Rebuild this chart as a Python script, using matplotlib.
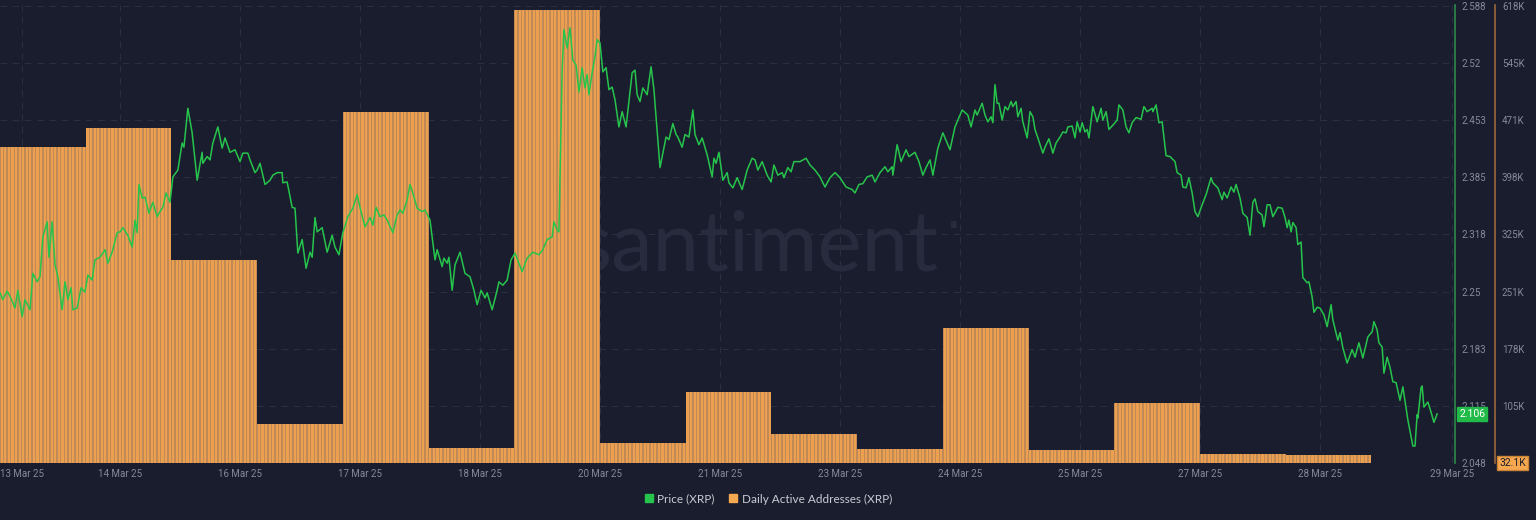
import numpy as np
import matplotlib
matplotlib.use("Agg")
import matplotlib.pyplot as plt
from matplotlib.lines import Line2D

# ---------------- data ----------------
# Daily active addresses (XRP), one value per day starting 13 Mar 25
daa_daily_k = [437, 462, 292, 82, 482, 51, 613, 58, 123, 69, 50, 205, 49, 109, 43, 42]

# Price (XRP): hours since start of chart and price in USD
price_hours = [
    0.0, 0.8, 2.0, 2.8, 4.2, 5.0, 6.2, 7.0, 8.4, 9.2, 10.4, 11.2, 12.0, 13.2, 13.7, 14.6,
    15.4, 16.2, 17.4, 18.2, 19.0, 19.9, 20.4, 21.6, 22.7, 23.8, 24.6, 25.8, 26.6, 28.0,
    29.4, 30.2, 31.4, 32.8, 33.6, 34.4, 35.8, 37.0, 37.8, 38.4, 38.9, 39.8, 40.6, 41.7,
    42.8, 44.0, 44.8, 45.6, 46.5, 47.6, 48.4, 49.8, 51.0, 51.5, 52.6, 53.8, 55.2, 56.6,
    56.8, 58.0, 58.8, 59.6, 61.0, 62.2, 63.0, 64.4, 65.8, 67.2, 68.0, 69.4, 70.0, 71.4,
    72.0, 72.8, 74.2, 75.6, 76.4, 77.6, 79.0, 79.2, 80.4, 81.8, 82.6, 83.4, 84.6, 85.7,
    86.8, 87.4, 88.2, 88.8, 90.2, 91.6, 93.0, 93.8, 94.9, 96.0, 97.4, 98.8, 100.0, 100.8,
    102.2, 103.6, 104.4, 105.3, 106.4, 107.5, 108.4, 110.0, 111.2, 112.0, 112.8, 114.0,
    114.8, 115.6, 116.8, 118.2, 119.0, 120.4, 121.8, 122.4, 123.8, 124.3, 125.2, 125.7,
    126.6, 127.4, 128.8, 130.2, 131.6, 132.7, 133.6, 134.7, 135.8, 136.4, 137.8, 139.2,
    139.7, 140.8, 142.0, 143.1, 144.2, 146.2, 147.6, 149.2, 150.9, 152.0, 153.2, 154.6,
    155.1, 156.0, 156.5, 157.4, 157.9, 158.8, 159.6, 160.4, 161.3, 162.1, 163.0, 163.8,
    164.4, 164.9, 165.8, 166.6, 167.2, 168.0, 168.8, 169.7, 170.5, 171.4, 172.2, 173.3,
    174.2, 175.3, 177.0, 177.8, 178.4, 179.2, 180.0, 181.2, 182.3, 183.1, 184.8, 186.5,
    187.3, 188.4, 189.3, 189.8, 191.0, 191.8, 192.9, 194.0, 194.6, 195.7, 196.6, 198.0,
    199.4, 199.9, 200.5, 201.3, 202.4, 203.6, 204.1, 205.2, 206.4, 207.2, 207.8, 209.2,
    210.6, 211.4, 212.2, 213.4, 214.8, 215.9, 216.7, 217.8, 219.0, 219.5, 220.6, 221.5,
    222.3, 224.0, 225.7, 226.8, 228.2, 229.6, 231.0, 232.4, 233.8, 235.2, 236.9, 238.6,
    239.4, 240.5, 241.6, 242.8, 244.2, 245.0, 246.4, 247.8, 248.6, 249.8, 250.0, 251.2,
    252.3, 253.7, 254.5, 256.2, 257.3, 258.4, 259.3, 260.4, 261.2, 262.6, 264.0, 266.0,
    267.4, 268.2, 269.4, 270.2, 271.0, 271.9, 273.0, 273.6, 275.0, 275.8, 276.6, 277.5,
    278.0, 278.6, 279.2, 279.7, 280.6, 281.4, 282.2, 283.1, 283.6, 284.5, 285.0, 285.9,
    286.4, 287.6, 288.4, 289.2, 289.8, 290.6, 292.0, 292.6, 293.7, 294.8, 295.7, 296.8,
    297.6, 298.5, 299.0, 300.2, 301.0, 301.6, 302.4, 303.0, 303.8, 304.4, 304.9, 306.0,
    307.2, 308.3, 308.8, 309.7, 310.5, 311.6, 312.8, 313.3, 314.4, 315.3, 316.1, 317.0,
    318.1, 319.5, 320.3, 321.2, 322.6, 322.8, 323.7, 324.5, 325.4, 326.5, 327.6, 329.0,
    329.6, 330.7, 331.2, 332.1, 332.9, 333.8, 334.6, 335.4, 336.6, 337.7, 339.1, 339.6,
    341.0, 342.2, 342.7, 343.6, 344.7, 345.5, 346.1, 347.2, 348.0, 349.2, 350.0, 350.8,
    351.4, 352.2, 353.4, 353.9, 354.8, 355.6, 356.4, 357.8, 359.0, 359.8, 360.4, 360.9,
    361.5, 362.0, 362.9, 363.4, 364.3, 364.8, 366.0, 366.5, 367.4, 367.9, 368.8, 369.6,
    370.7, 371.6, 372.7, 373.2, 374.6, 375.2, 376.0, 377.2, 378.6, 379.4, 380.5, 381.6,
    383.0, 384.2, 384.7, 385.6, 386.1, 387.0, 387.5, 388.4, 389.2, 390.0, 390.9, 392.0,
    392.8, 394.2, 395.6, 396.2, 396.8, 397.0, 397.9, 398.2, 398.7, 399.8, 400.7, 401.5,
    402.4,
]
price_values = [
    2.249, 2.241, 2.251, 2.245, 2.231, 2.252, 2.221, 2.241, 2.229, 2.272, 2.262, 2.268, 2.315, 2.333, 2.291, 2.333,
    2.282, 2.268, 2.229, 2.262, 2.241, 2.255, 2.229, 2.231, 2.255, 2.250, 2.270, 2.264, 2.288, 2.291,
    2.300, 2.284, 2.297, 2.320, 2.321, 2.326, 2.317, 2.303, 2.335, 2.320, 2.377, 2.361, 2.362, 2.343,
    2.356, 2.339, 2.345, 2.350, 2.367, 2.356, 2.386, 2.394, 2.426, 2.421, 2.467, 2.438, 2.382, 2.415,
    2.402, 2.410, 2.406, 2.426, 2.445, 2.420, 2.432, 2.415, 2.418, 2.404, 2.414, 2.414, 2.406, 2.391,
    2.394, 2.402, 2.377, 2.382, 2.388, 2.391, 2.391, 2.379, 2.380, 2.350, 2.349, 2.296, 2.312, 2.278,
    2.297, 2.291, 2.338, 2.321, 2.326, 2.297, 2.317, 2.303, 2.294, 2.320, 2.339, 2.349, 2.365, 2.350,
    2.327, 2.338, 2.329, 2.350, 2.339, 2.341, 2.335, 2.320, 2.341, 2.347, 2.343, 2.359,
    2.377, 2.367, 2.349, 2.345, 2.347, 2.335, 2.288, 2.300, 2.280, 2.290, 2.284, 2.291,
    2.252, 2.282, 2.297, 2.272, 2.268, 2.252, 2.235, 2.252, 2.243, 2.249, 2.229, 2.252,
    2.262, 2.258, 2.264, 2.288, 2.296, 2.274, 2.290, 2.297, 2.294, 2.300, 2.312, 2.315,
    2.333, 2.323, 2.321, 2.512, 2.560, 2.538, 2.562, 2.524, 2.518, 2.486, 2.515, 2.491,
    2.507, 2.483, 2.509, 2.528, 2.548, 2.544, 2.510, 2.515, 2.489, 2.492, 2.477, 2.445,
    2.463, 2.445, 2.509, 2.512, 2.483, 2.475, 2.491, 2.483, 2.516, 2.489, 2.397, 2.433,
    2.430, 2.449, 2.436, 2.433, 2.421, 2.436, 2.433, 2.465, 2.436, 2.424, 2.432, 2.412,
    2.386, 2.408, 2.402, 2.415, 2.382, 2.391, 2.379, 2.373, 2.385, 2.377, 2.371, 2.394,
    2.408, 2.406, 2.394, 2.404, 2.388, 2.380, 2.400, 2.388, 2.391, 2.385, 2.397, 2.392,
    2.404, 2.404, 2.408, 2.400, 2.394, 2.386, 2.374, 2.385, 2.391, 2.385, 2.374, 2.371,
    2.367, 2.377, 2.378, 2.386, 2.388, 2.380, 2.391, 2.398, 2.392, 2.398, 2.388, 2.424,
    2.404, 2.418, 2.410, 2.415, 2.404, 2.388, 2.397, 2.406, 2.388, 2.420, 2.438, 2.418,
    2.445, 2.453, 2.465, 2.462, 2.459, 2.445, 2.465, 2.459, 2.473, 2.459, 2.451, 2.457,
    2.450, 2.495, 2.473, 2.473, 2.453, 2.469, 2.465, 2.475, 2.469, 2.475, 2.457, 2.467,
    2.451, 2.432, 2.463, 2.457, 2.442, 2.432, 2.414, 2.421, 2.431, 2.414, 2.426, 2.433,
    2.439, 2.438, 2.445, 2.446, 2.432, 2.451, 2.439, 2.450, 2.439, 2.442, 2.432, 2.469,
    2.451, 2.467, 2.453, 2.463, 2.442, 2.447, 2.453, 2.471, 2.465, 2.445, 2.438, 2.450,
    2.456, 2.454, 2.469, 2.463, 2.467, 2.463, 2.471, 2.450, 2.451, 2.411, 2.410, 2.404,
    2.391, 2.388, 2.374, 2.373, 2.385, 2.367, 2.345, 2.339, 2.353, 2.365, 2.385, 2.379,
    2.373, 2.359, 2.368, 2.361, 2.374, 2.368, 2.377, 2.361, 2.343, 2.338, 2.317, 2.356,
    2.360, 2.345, 2.341, 2.327, 2.353, 2.353, 2.339, 2.350, 2.349, 2.338, 2.326, 2.335,
    2.321, 2.332, 2.326, 2.306, 2.309, 2.267, 2.261, 2.262, 2.244, 2.226, 2.232, 2.231,
    2.223, 2.209, 2.235, 2.217, 2.193, 2.202, 2.184, 2.166, 2.182, 2.173, 2.190, 2.172,
    2.197, 2.203, 2.215, 2.205, 2.190, 2.185, 2.154, 2.173, 2.161, 2.144, 2.143, 2.122,
    2.138, 2.099, 2.068, 2.068, 2.105, 2.101, 2.137, 2.139, 2.114, 2.120, 2.108, 2.096,
    2.106,
]

x_tick_labels = ["13 Mar 25", "14 Mar 25", "16 Mar 25", "17 Mar 25", "18 Mar 25", "20 Mar 25",
                 "21 Mar 25", "23 Mar 25", "24 Mar 25", "25 Mar 25", "27 Mar 25", "28 Mar 25",
                 "29 Mar 25"]
price_tick_labels = ["2.048", "2.115", "2.183", "2.25", "2.318", "2.385", "2.453", "2.52", "2.588"]
daa_tick_labels = ["", "105K", "178K", "251K", "325K", "398K", "471K", "545K", "618K"]
last_price_label = "2.106"
last_daa_label = "32.1K"

# ---------------- style ----------------
BG = "#1a1d2d"
GREEN = "#26c44c"
GREEN_AX = "#2d8a49"
ORANGE = "#eca04f"
ORANGE_DARK = "#bf8a56"
ORANGE_AX = "#9a673c"
TICK = "#858a9b"
GRID = "#2a2e40"
WATER = "#272b3d"
NARROW = ["Liberation Sans Narrow", "Roboto", "DejaVu Sans"]

W, H = 1536, 520
fig = plt.figure(figsize=(W / 100, H / 100), dpi=100, facecolor=BG)
ax = fig.add_axes([0, 1 - 463 / H, 1455 / W, 458 / H])
ax.set_facecolor(BG)
axp = ax.twinx()

daa = np.array(daa_daily_k, dtype=float) * 1000
ndays = len(daa)
day_start = np.arange(ndays) * 24.0
ax.bar(day_start, daa, width=24, align="edge", color=ORANGE_DARK, linewidth=0, zorder=2)
hours = np.arange(ndays * 24) + 0.5
ax.bar(hours, np.repeat(daa, 24), width=0.58, color=ORANGE, linewidth=0, zorder=3)

axp.plot(price_hours, price_values, color=GREEN, lw=1.1, zorder=5, solid_joinstyle="round")

# axes limits
xmax = 1455 * 0.28
ax.set_xlim(0, xmax)
ax.set_ylim(32100, 619000)
axp.set_ylim(2.048, 2.589)

# x ticks (every 1.4 days; end labels kept inside the chart)
xt = np.arange(len(x_tick_labels)) * 33.6
xt[0] = 22 * 0.28
xt[-1] = 1452 * 0.28
ax.set_xticks(xt)
ax.set_xticklabels(x_tick_labels)
ax.tick_params(axis="x", length=0, pad=4, labelsize=7, labelcolor=TICK, labelfontfamily=NARROW)

# y ticks
ax.yaxis.set_ticks_position("right")
ax.yaxis.set_label_position("right")
ax.set_yticks(np.linspace(32100, 618000, 9))
ax.set_yticklabels(daa_tick_labels)
ax.tick_params(axis="y", which="both", left=False, right=False, labelleft=False,
               labelright=True, length=0, pad=5, labelsize=7, labelcolor=TICK,
               labelfontfamily=NARROW)
axp.set_yticks(np.linspace(2.048, 2.588, 9))
axp.set_yticklabels(price_tick_labels)
axp.tick_params(axis="y", length=0, pad=5, labelsize=7, labelcolor=TICK, labelfontfamily=NARROW)
axp.tick_params(axis="x", length=0, labelbottom=False)

for a in (ax, axp):
    for s in ("top", "left", "bottom"):
        a.spines[s].set_visible(False)
axp.spines["right"].set_color(GREEN_AX)
axp.spines["right"].set_linewidth(1.2)
ax.spines["right"].set_position(("outward", 40 * 0.72))
ax.spines["right"].set_color(ORANGE_AX)
ax.spines["right"].set_linewidth(1.2)

ax.set_axisbelow(True)
ax.grid(True, color=GRID, lw=0.8, ls=(0, (6, 5)), zorder=0)

# watermark
ax.text(0.520, 0.47, "santiment", transform=ax.transAxes, ha="center", va="center",
        fontsize=60, color=WATER, family=["Lato", "DejaVu Sans"], fontweight="normal", zorder=1)
ax.text(0.655, 0.51, "\u00b7", transform=ax.transAxes, ha="center", va="center",
        fontsize=40, color=WATER, zorder=1)

# last value badges
axp.annotate(last_price_label, xy=(1, price_values[-1]), xycoords=axp.get_yaxis_transform(),
             xytext=(3, 0), textcoords="offset points", ha="left", va="center",
             fontsize=7.5, color="white", family=NARROW,
             bbox=dict(boxstyle="square,pad=0.2", fc="#22bb4a", ec="#22bb4a"), zorder=10,
             annotation_clip=False)
ax.annotate(last_daa_label, xy=(1, 32100), xycoords=ax.get_yaxis_transform(),
            xytext=(40 * 0.72 + 3, 0), textcoords="offset points", ha="left", va="center",
            fontsize=7.5, color="#1a1d2d", family=NARROW,
            bbox=dict(boxstyle="square,pad=0.2", fc="#f5a84f", ec="#c98437"), zorder=10,
            annotation_clip=False)

# legend
handles = [Line2D([], [], marker="s", ls="none", color="#26c44c", markersize=6),
           Line2D([], [], marker="s", ls="none", color="#f5a84f", markersize=6)]
fig.legend(handles, ["Price (XRP)", "Daily Active Addresses (XRP)"], loc="center",
           bbox_to_anchor=(0.5, 1 - 499 / H), ncol=2, frameon=False,
           prop={"family": ["Lato", "DejaVu Sans"], "size": 8.5}, labelcolor="#c9ccd4",
           handletextpad=0.3, columnspacing=1.2, handlelength=0.8)

fig.savefig("out.png", dpi=100, facecolor=BG)
